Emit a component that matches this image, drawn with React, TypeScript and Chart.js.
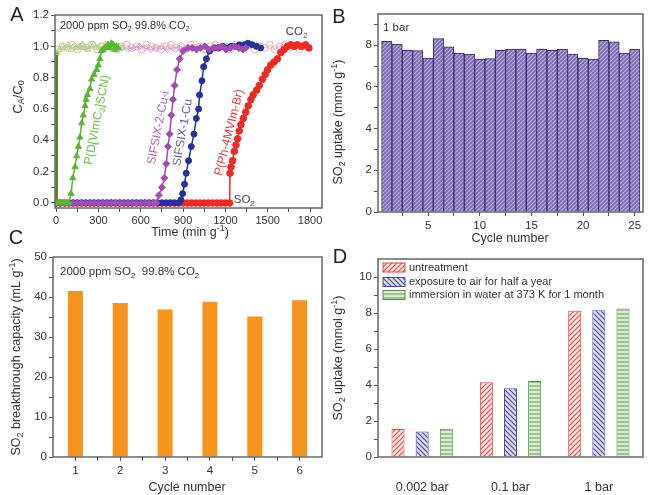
import React, { useEffect, useRef } from 'react';
import { Chart, registerables } from 'chart.js';
Chart.register(...registerables);

const FONT = "'Liberation Sans', Arial, Helvetica, sans-serif";
const W = 650;
const H = 495;

// ---------- Panel A: breakthrough curves ----------
const aGreenT = [0, 15, 30, 45, 60, 75, 90, 106, 118, 134, 146, 158, 169, 181, 193, 205, 212, 221, 240, 252, 268, 287, 299, 310, 322, 334, 346, 358, 369, 381, 393, 404, 416, 428, 440];
const aGreenC = [0, 0, 0, 0, 0, 0, 0, 0.06, 0.16, 0.23, 0.30, 0.36, 0.42, 0.51, 0.56, 0.62, 0.66, 0.69, 0.73, 0.79, 0.82, 0.85, 0.88, 0.92, 0.97, 0.98, 0.99, 1.0, 1.01, 0.99, 1.02, 1.01, 0.98, 1.0, 0.99];

const aPurpleT = [0, 30, 60, 90, 120, 150, 180, 210, 240, 270, 300, 330, 360, 390, 420, 450, 480, 510, 540, 570, 600, 630, 660, 690, 710, 729, 750, 767, 781, 793, 805, 817, 829, 840, 857, 876, 900, 935, 965, 995, 1025, 1055, 1085, 1115, 1145, 1175, 1205, 1235, 1265, 1295, 1325, 1345];
const aPurpleC = [0, 0, 0, 0, 0, 0, 0, 0, 0, 0, 0, 0, 0, 0, 0, 0, 0, 0, 0, 0, 0, 0, 0, 0, 0, 0.05, 0.10, 0.16, 0.25, 0.36, 0.44, 0.56, 0.66, 0.75, 0.85, 0.92, 0.97, 0.99, 0.99, 0.98, 0.99, 1.0, 0.98, 0.99, 0.99, 1.0, 0.98, 0.99, 1.0, 0.99, 0.98, 0.99];

const aBlueT = [0, 30, 60, 90, 120, 150, 180, 210, 240, 270, 300, 330, 360, 390, 420, 450, 480, 510, 540, 570, 600, 630, 660, 690, 720, 750, 780, 810, 840, 870, 885, 897, 910, 922, 939, 958, 977, 994, 1010, 1017, 1034, 1046, 1065, 1088, 1123, 1150, 1180, 1210, 1240, 1270, 1300, 1330, 1360, 1390, 1420, 1450];
const aBlueC = [0, 0, 0, 0, 0, 0, 0, 0, 0, 0, 0, 0, 0, 0, 0, 0, 0, 0, 0, 0, 0, 0, 0, 0, 0, 0, 0, 0, 0, 0, 0.02, 0.06, 0.12, 0.19, 0.27, 0.36, 0.44, 0.54, 0.60, 0.69, 0.78, 0.87, 0.92, 0.97, 0.99, 0.99, 1.0, 0.99, 1.0, 1.0, 1.01, 1.01, 1.02, 1.01, 1.0, 0.99];

const aRedT = [0, 30, 60, 90, 120, 150, 180, 210, 240, 270, 300, 330, 360, 390, 420, 450, 480, 510, 540, 570, 600, 630, 660, 690, 720, 750, 780, 810, 840, 870, 900, 930, 960, 990, 1020, 1050, 1080, 1110, 1140, 1170, 1200, 1230, 1233, 1240, 1251, 1263, 1275, 1287, 1298, 1310, 1327, 1345, 1362, 1381, 1397, 1421, 1440, 1463, 1482, 1499, 1522, 1545, 1569, 1593, 1616, 1640, 1663, 1687, 1710, 1740, 1769, 1792];
const aRedC = [0, 0, 0, 0, 0, 0, 0, 0, 0, 0, 0, 0, 0, 0, 0, 0, 0, 0, 0, 0, 0, 0, 0, 0, 0, 0, 0, 0, 0, 0, 0, 0, 0, 0, 0, 0, 0, 0, 0, 0, 0, 0, 0.19, 0.23, 0.27, 0.33, 0.37, 0.41, 0.46, 0.50, 0.54, 0.58, 0.62, 0.66, 0.69, 0.72, 0.75, 0.79, 0.82, 0.85, 0.88, 0.90, 0.92, 0.96, 0.98, 1.0, 1.01, 1.0, 1.01, 1.0, 1.01, 0.99];

const aCo2GreenT = [8, 25, 45, 65, 85, 105, 125, 145, 165, 185, 205, 225, 245, 265, 285, 305, 325, 345, 365, 385, 405, 425, 445, 465];
const aCo2GreenC = [0.96, 0.98, 1.0, 0.99, 1.01, 0.98, 1.0, 0.99, 1.0, 1.01, 0.99, 0.98, 1.0, 1.01, 0.99, 1.0, 0.98, 1.0, 1.01, 0.99, 1.0, 0.98, 1.0, 0.99];
const aCo2JumpT = [4, 4, 10];
const aCo2JumpC = [0, 0.93, 0.97];
const aCo2PurpleT = [470, 510, 550, 590, 630, 670, 710, 750, 790, 830, 870, 910];
const aCo2PurpleC = [0.99, 0.98, 0.99, 1.0, 0.99, 0.98, 0.99, 1.0, 0.98, 0.99, 0.99, 0.98];
const aCo2PinkT = [10, 45, 80, 115, 150, 185, 220, 255, 290, 325, 360, 395, 430, 465, 500, 535, 570, 605, 640, 675, 710, 745, 780, 815, 850, 885, 920, 955, 990, 1025, 1060, 1095, 1130, 1165, 1200, 1235, 1270, 1305, 1340, 1375, 1410, 1445, 1480, 1515, 1550, 1585, 1620, 1655, 1690, 1725, 1760];
const aCo2PinkC = [0.98, 1.0, 0.99, 1.01, 0.98, 1.0, 0.99, 1.01, 0.98, 1.0, 1.01, 0.99, 0.98, 1.0, 1.01, 0.99, 1.0, 0.98, 1.01, 1.0, 0.99, 0.98, 1.0, 1.01, 0.99, 1.0, 0.98, 1.01, 0.99, 1.0, 0.98, 1.0, 1.01, 0.99, 1.0, 0.98, 1.01, 0.99, 1.0, 1.01, 0.98, 1.0, 0.99, 1.01, 0.98, 1.0, 1.01, 0.99, 1.0, 0.98, 1.0];

const aXTicks = [0, 150, 300, 450, 600, 750, 900, 1050, 1200, 1350, 1500, 1650, 1800];
const aXLabels = ['0', '', '300', '', '600', '', '900', '', '1200', '', '1500', '', '1800'];
const aYTicks = [0, 0.1, 0.2, 0.3, 0.4, 0.5, 0.6, 0.7, 0.8, 0.9, 1.0, 1.1, 1.2];
const aYLabels = ['0.0', '', '0.2', '', '0.4', '', '0.6', '', '0.8', '', '1.0', '', '1.2'];

// ---------- Panel B: cycling uptake ----------
const bCycles = [1, 2, 3, 4, 5, 6, 7, 8, 9, 10, 11, 12, 13, 14, 15, 16, 17, 18, 19, 20, 21, 22, 23, 24, 25];
const bUptake = [8.19, 8.06, 7.76, 7.74, 7.39, 8.32, 7.92, 7.63, 7.58, 7.34, 7.36, 7.76, 7.82, 7.82, 7.63, 7.82, 7.76, 7.82, 7.58, 7.37, 7.34, 8.24, 8.16, 7.63, 7.82];
const bXTicks = [2.5, 5, 7.5, 10, 12.5, 15, 17.5, 20, 22.5, 25];
const bXLabels = ['', '5', '', '10', '', '15', '', '20', '', '25'];
const bYTicks = [0, 1, 2, 3, 4, 5, 6, 7, 8, 9];
const bYLabels = ['0', '', '2', '', '4', '', '6', '', '8', ''];

// ---------- Panel C: breakthrough capacity ----------
const cCycles = [1, 2, 3, 4, 5, 6];
const cCapacity = [41.5, 38.5, 36.9, 38.8, 35.1, 39.2];
const cXTicks = [1, 1.5, 2, 2.5, 3, 3.5, 4, 4.5, 5, 5.5, 6];
const cXLabels = ['1', '', '2', '', '3', '', '4', '', '5', '', '6'];
const cYTicks = [0, 5, 10, 15, 20, 25, 30, 35, 40, 45, 50];
const cYLabels = ['0', '', '10', '', '20', '', '30', '', '40', '', '50'];

// ---------- Panel D: stability ----------
const dCats = ['0.002 bar', '0.1 bar', '1 bar'];
const dSeriesNames = ['untreatment', 'exposure to air for half a year', 'immersion in water at 373 K for 1 month'];
const dUntreated = [1.55, 4.15, 8.12];
const dAir = [1.42, 3.82, 8.15];
const dWater = [1.57, 4.22, 8.25];
const dYTicks = [0, 1, 2, 3, 4, 5, 6, 7, 8, 9, 10];
const dYLabels = ['0', '', '2', '', '4', '', '6', '', '8', '', '10'];

type Seg = [string, 'n' | 'sub' | 'sup'];

function drawRich(ctx: CanvasRenderingContext2D, segs: Seg[], x: number, y: number, size: number, color: string, angle = 0, align: 'center' | 'left' = 'center') {
  ctx.save();
  ctx.translate(x, y);
  ctx.rotate(angle);
  const fontFor = (m: string) => `${m === 'n' ? size : Math.round(size * 0.68)}px ${FONT}`;
  let total = 0;
  for (const [t, m] of segs) {
    ctx.font = fontFor(m);
    total += ctx.measureText(t).width;
  }
  let cx = align === 'center' ? -total / 2 : 0;
  ctx.fillStyle = color;
  ctx.textBaseline = 'middle';
  ctx.textAlign = 'left';
  for (const [t, m] of segs) {
    ctx.font = fontFor(m);
    const dy = m === 'sub' ? size * 0.3 : m === 'sup' ? -size * 0.35 : 0;
    ctx.fillText(t, cx, dy);
    cx += ctx.measureText(t).width;
  }
  ctx.restore();
}

function makePattern(bg: string, fg: string, kind: string, size: number, lw: number) {
  const c = document.createElement('canvas');
  c.width = size;
  c.height = size;
  const x = c.getContext('2d')!;
  x.fillStyle = bg;
  x.fillRect(0, 0, size, size);
  x.strokeStyle = fg;
  x.lineWidth = lw;
  x.beginPath();
  if (kind === '/') {
    x.moveTo(-1, size + 1); x.lineTo(size + 1, -1);
    x.moveTo(-1, 1); x.lineTo(1, -1);
    x.moveTo(size - 1, size + 1); x.lineTo(size + 1, size - 1);
  } else if (kind === '\\') {
    x.moveTo(-1, -1); x.lineTo(size + 1, size + 1);
    x.moveTo(size - 1, -1); x.lineTo(size + 1, 1);
    x.moveTo(-1, size - 1); x.lineTo(1, size + 1);
  } else {
    x.moveTo(0, size / 2); x.lineTo(size, size / 2);
  }
  x.stroke();
  return x.createPattern(c, 'repeat')!;
}

const zip = (xs: number[], ys: number[]) => xs.map((x, i) => ({ x, y: ys[i] })).filter((p) => p.y !== undefined);

interface Rect { l: number; t: number; r: number; b: number }

function layoutFor(rect: Rect, yW: number) {
  return { autoPadding: false, padding: { left: rect.l - yW, top: rect.t, right: W - rect.r, bottom: 0 } };
}

function linScale(min: number, max: number, vals: number[], labels: string[], fit: (s: any) => void, tickPad = 2, size = 11.5) {
  return {
    type: 'linear',
    min,
    max,
    offset: false,
    afterBuildTicks: (s: any) => { s.ticks = vals.map((v) => ({ value: v })); },
    afterFit: fit,
    ticks: {
      callback: (_v: number, i: number) => labels[i],
      font: { family: FONT, size },
      color: '#333',
      padding: tickPad,
      autoSkip: false,
      maxRotation: 0,
      minRotation: 0,
    },
    grid: { drawOnChartArea: false, drawTicks: true, tickLength: 4, color: '#555', lineWidth: 1, offset: false },
    border: { display: false },
    title: { display: false },
  };
}

const framePlugin = {
  id: 'frame',
  afterDatasetsDraw(chart: any) {
    const { ctx, chartArea: a } = chart;
    ctx.save();
    ctx.strokeStyle = '#666';
    ctx.lineWidth = 1.5;
    ctx.strokeRect(a.left, a.top, a.right - a.left, a.bottom - a.top);
    ctx.restore();
  },
};

const baseOpts = {
  animation: false,
  responsive: false,
  events: [],
  plugins: { legend: { display: false }, tooltip: { enabled: false } },
};

function lineDs(data: any[], color: string, style: string, radius: number, filled: boolean, lw = 1.5) {
  return {
    data,
    showLine: true,
    borderColor: color,
    borderWidth: lw,
    pointStyle: style,
    pointRadius: radius,
    pointBackgroundColor: filled ? color : 'rgba(255,255,255,0)',
    pointBorderColor: color,
    pointBorderWidth: 1,
    tension: 0,
  };
}

function letter(ctx: CanvasRenderingContext2D, t: string, x: number, y: number) {
  ctx.save();
  ctx.font = `20px ${FONT}`;
  ctx.fillStyle = '#222';
  ctx.textAlign = 'center';
  ctx.textBaseline = 'middle';
  ctx.fillText(t, x, y);
  ctx.restore();
}

function configA(): any {
  const rect = { l: 55, t: 15, r: 322, b: 208 };
  const yW = 55;
  return {
    type: 'scatter',
    data: {
      datasets: [
        lineDs(zip(aGreenT, aGreenC), '#5cb531', 'triangle', 3.5, true),
        lineDs(zip(aPurpleT, aPurpleC), '#a24cb0', 'rectRot', 3.5, true),
        lineDs(zip(aBlueT, aBlueC), '#26329a', 'circle', 3, true),
        lineDs(zip(aRedT, aRedC), '#ec2b24', 'circle', 3.3, true),
        lineDs(zip(aCo2GreenT, aCo2GreenC), '#a9d88c', 'triangle', 3.5, false, 1),
        lineDs(zip(aCo2PurpleT, aCo2PurpleC), '#c8a2d6', 'rectRot', 3, false, 1),
        lineDs(zip(aCo2PinkT, aCo2PinkC), '#f3a9b2', 'circle', 3.5, false, 1),
        { ...lineDs(zip(aCo2JumpT, aCo2JumpC), '#527f2e', 'circle', 0, true, 2.5) },
      ],
    },
    options: {
      ...baseOpts,
      layout: layoutFor(rect, yW),
      scales: {
        x: linScale(-8, 1885, aXTicks, aXLabels, (s: any) => { s.height = H - rect.b; }, 2, 11),
        y: linScale(-0.032, 1.2, aYTicks, aYLabels, (s: any) => { s.width = yW; }),
      },
    },
    plugins: [
      framePlugin,
      {
        id: 'annA',
        afterDraw(chart: any) {
          const { ctx, scales } = chart;
          const px = (t: number) => scales.x.getPixelForValue(t);
          const py = (c: number) => scales.y.getPixelForValue(c);
          const deg = Math.PI / 180;
          drawRich(ctx, [['2000 ppm SO', 'n'], ['2', 'sub'], [' 99.8% CO', 'n'], ['2', 'sub']], 60, 26, 11, '#333', 0, 'left');
          drawRich(ctx, [['CO', 'n'], ['2', 'sub']], px(1705), py(1.09), 11.5, '#444');
          drawRich(ctx, [['SO', 'n'], ['2', 'sub']], px(1334), py(0.02), 11.5, '#444');
          drawRich(ctx, [['P(D[VImC', 'n'], ['3', 'sub'], [']SCN)', 'n']], px(292), py(0.53), 12, '#67bf44', -79 * deg);
          drawRich(ctx, [['SIFSIX-2-Cu-i', 'n']], px(727), py(0.48), 12, '#b25dc0', -79 * deg);
          drawRich(ctx, [['SIFSIX-1-Cu', 'n']], px(898), py(0.45), 12, '#5b5fa9', -80 * deg);
          drawRich(ctx, [['P(Ph-4MVIm-Br)', 'n']], px(1228), py(0.45), 12, '#ea3b3b', -76 * deg);
          drawRich(ctx, [['C', 'n'], ['A', 'sub'], ['/C', 'n'], ['0', 'sub']], 18, 97, 13, '#333', -90 * deg);
          drawRich(ctx, [['Time (min g', 'n'], ['-1', 'sup'], [')', 'n']], 190, 233, 12.5, '#333');
          letter(ctx, 'A', 17, 15);
        },
      },
    ],
  };
}

function configB(pattern: CanvasPattern): any {
  const rect = { l: 378, t: 14, r: 643, b: 212 };
  const yW = 53;
  return {
    type: 'bar',
    data: {
      datasets: [
        {
          data: zip(bCycles, bUptake),
          backgroundColor: pattern,
          borderColor: '#3a2a70',
          borderWidth: 1,
          borderSkipped: 'start',
          categoryPercentage: 1,
          barPercentage: 1,
        },
      ],
    },
    options: {
      ...baseOpts,
      layout: layoutFor(rect, yW),
      scales: {
        x: linScale(0.15, 25.8, bXTicks, bXLabels, (s: any) => { s.height = H - rect.b; }, 3),
        y: linScale(0, 9.5, bYTicks, bYLabels, (s: any) => { s.width = yW; }),
      },
    },
    plugins: [
      framePlugin,
      {
        id: 'annB',
        afterDraw(chart: any) {
          const { ctx } = chart;
          drawRich(ctx, [['1 bar', 'n']], 383, 28, 11.5, '#333', 0, 'left');
          drawRich(ctx, [['SO', 'n'], ['2', 'sub'], [' uptake (mmol g', 'n'], ['-1', 'sup'], [')', 'n']], 339, 122, 12.5, '#333', -Math.PI / 2);
          drawRich(ctx, [['Cycle number', 'n']], 510, 239, 12.5, '#333');
          letter(ctx, 'B', 339, 17);
        },
      },
    ],
  };
}

function configC(): any {
  const rect = { l: 53, t: 257, r: 322, b: 457 };
  const yW = 53;
  return {
    type: 'bar',
    data: {
      datasets: [
        {
          data: zip(cCycles, cCapacity),
          backgroundColor: '#f7941e',
          borderWidth: 0,
          categoryPercentage: 1,
          barPercentage: 0.67,
        },
      ],
    },
    options: {
      ...baseOpts,
      layout: layoutFor(rect, yW),
      scales: {
        x: linScale(0.5, 6.5, cXTicks, cXLabels, (s: any) => { s.height = H - rect.b; }, 3),
        y: linScale(0, 50, cYTicks, cYLabels, (s: any) => { s.width = yW; }),
      },
    },
    plugins: [
      framePlugin,
      {
        id: 'annC',
        afterDraw(chart: any) {
          const { ctx } = chart;
          drawRich(ctx, [['2000 ppm SO', 'n'], ['2', 'sub'], ['  99.8% CO', 'n'], ['2', 'sub']], 60, 272, 11.5, '#333', 0, 'left');
          drawRich(ctx, [['SO', 'n'], ['2', 'sub'], [' breakthrough capacity (mL g', 'n'], ['-1', 'sup'], [')', 'n']], 17, 357, 12.5, '#333', -Math.PI / 2);
          drawRich(ctx, [['Cycle number', 'n']], 187, 488, 12.5, '#333');
          letter(ctx, 'C', 16, 238);
        },
      },
    ],
  };
}

function configD(pats: CanvasPattern[]): any {
  const rect = { l: 378, t: 259, r: 643, b: 457 };
  const yW = 53;
  const borders = ['#e8413f', '#4b4ca6', '#4f8d45'];
  const values = [dUntreated, dAir, dWater];
  return {
    type: 'bar',
    data: {
      labels: dCats,
      datasets: values.map((v, i) => ({
        label: dSeriesNames[i],
        data: v,
        backgroundColor: pats[i],
        borderColor: borders[i],
        borderWidth: 1,
        borderSkipped: 'start',
        categoryPercentage: 0.82,
        barPercentage: 0.54,
      })),
    },
    options: {
      ...baseOpts,
      layout: layoutFor(rect, yW),
      scales: {
        x: {
          type: 'category',
          offset: true,
          afterFit: (s: any) => { s.height = H - rect.b; },
          grid: { display: false, drawTicks: false },
          border: { display: false },
          ticks: { font: { family: FONT, size: 12.5 }, color: '#333', padding: 23, maxRotation: 0, autoSkip: false },
        },
        y: linScale(0, 11, dYTicks, dYLabels, (s: any) => { s.width = yW; }),
      },
    },
    plugins: [
      framePlugin,
      {
        id: 'annD',
        afterDraw(chart: any) {
          const { ctx } = chart;
          const rows = [267.5, 282, 295];
          rows.forEach((cy, i) => {
            ctx.save();
            ctx.fillStyle = pats[i];
            ctx.fillRect(383, cy - 4.5, 22, 9);
            ctx.strokeStyle = borders[i];
            ctx.lineWidth = 1;
            ctx.strokeRect(383, cy - 4.5, 22, 9);
            ctx.restore();
            drawRich(ctx, [[dSeriesNames[i], 'n']], 409, cy, 11, '#333', 0, 'left');
          });
          drawRich(ctx, [['SO', 'n'], ['2', 'sub'], [' uptake (mmol g', 'n'], ['-1', 'sup'], [')', 'n']], 339, 358, 12.5, '#333', -Math.PI / 2);
          letter(ctx, 'D', 340, 257);
        },
      },
    ],
  };
}

export default function App() {
  const refA = useRef<HTMLCanvasElement>(null);
  const refB = useRef<HTMLCanvasElement>(null);
  const refC = useRef<HTMLCanvasElement>(null);
  const refD = useRef<HTMLCanvasElement>(null);

  useEffect(() => {
    const purple = makePattern('#7866b2', '#c2b8e2', '/', 4, 1.1);
    const red = makePattern('#fde6e6', '#ee4a48', '/', 5, 1.2);
    const blue = makePattern('#dedcf0', '#4a4aa6', '\\', 5, 1.2);
    const green = makePattern('#d9ecd2', '#5a9a50', '-', 4, 1);
    const charts = [
      new Chart(refA.current!, configA()),
      new Chart(refB.current!, configB(purple)),
      new Chart(refC.current!, configC()),
      new Chart(refD.current!, configD([red, blue, green])),
    ];
    return () => charts.forEach((c) => c.destroy());
  }, []);

  const cs: React.CSSProperties = { position: 'absolute', left: 0, top: 0, width: W, height: H };
  return (
    <div style={{ position: 'absolute', left: 0, top: 0, width: W, height: H, background: '#fff', overflow: 'hidden' }}>
      <canvas ref={refA} width={W} height={H} style={cs} />
      <canvas ref={refB} width={W} height={H} style={cs} />
      <canvas ref={refC} width={W} height={H} style={cs} />
      <canvas ref={refD} width={W} height={H} style={cs} />
    </div>
  );
}
